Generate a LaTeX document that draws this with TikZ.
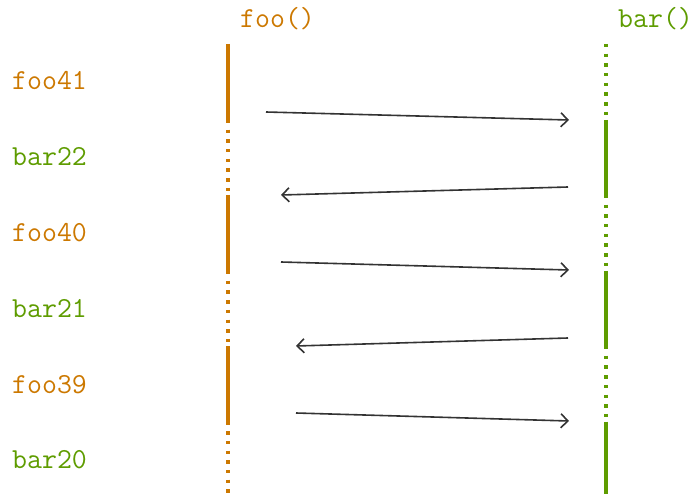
\documentclass[tikz,border=0pt]{standalone}
\usetikzlibrary{arrows.meta}
\definecolor{fooc}{RGB}{204,120,0}
\definecolor{barc}{RGB}{94,156,0}
\definecolor{arrc}{RGB}{51,51,51}
\begin{document}
\begin{tikzpicture}[x=1pt,y=-1pt,
  lbl/.style={anchor=base west,inner sep=0pt,font=\fontsize{29}{32}\selectfont\ttfamily},
  solidseg/.style={line width=3.8pt},
  dotseg/.style={line width=3.8pt,dash pattern=on 3.4pt off 6.3pt},
  msg/.style={draw=arrc,line width=1.6pt,-{Straight Barb[length=7pt,width=14pt,line width=1.6pt]}}]
\useasboundingbox (0,0) rectangle (693,494);
% headers
\node[lbl,text=fooc] (hf) at (240,28) {foo()};
\node[lbl,text=barc] (hb) at (618,28) {bar()};
% labels
\node[lbl,text=fooc] (l1) at (12,90) {foo41};
\node[lbl,text=barc] (l2) at (12,166) {bar22};
\node[lbl,text=fooc] (l3) at (12,242) {foo40};
\node[lbl,text=barc] (l4) at (12,317) {bar21};
\node[lbl,text=fooc] (l5) at (12,393) {foo39};
\node[lbl,text=barc] (l6) at (12,468) {bar20};
% lifelines
\foreach \i/\a/\b in {0/44/120,1/120/195,2/195/271,3/271/346,4/346/421.5,5/421.5/494}{
  \coordinate (fa\i) at (228,\a);
  \coordinate (fb\i) at (228,\b);
  \coordinate (ba\i) at (606,\a);
  \coordinate (bb\i) at (606,\b);
}
\foreach \i in {0,2,4}{
  \draw[fooc,solidseg] (fa\i) -- (fb\i);
  \draw[barc,dotseg] (ba\i) -- (bb\i);
}
\foreach \i in {1,3,5}{
  \draw[fooc,dotseg] (fa\i) -- (fb\i);
  \draw[barc,solidseg] (ba\i) -- (bb\i);
}
% messages
\coordinate (m1s) at (266,112); \coordinate (m1e) at (569,120);
\coordinate (m2s) at (568,187); \coordinate (m2e) at (281,195);
\coordinate (m3s) at (281,262); \coordinate (m3e) at (569,270);
\coordinate (m4s) at (568,338); \coordinate (m4e) at (296,346);
\coordinate (m5s) at (296,413); \coordinate (m5e) at (569,421);
\foreach \i in {1,...,5}{\draw[msg] (m\i s) -- (m\i e);}
\end{tikzpicture}
\end{document}
